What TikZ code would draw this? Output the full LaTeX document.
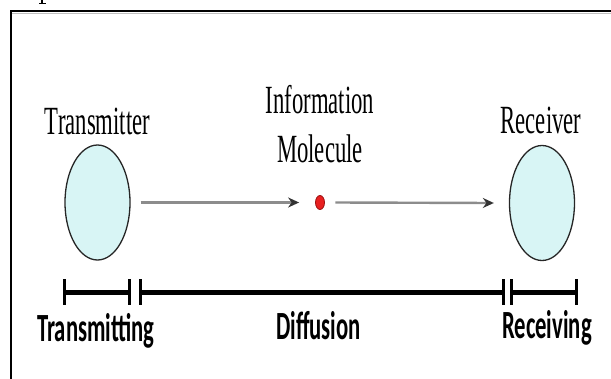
\documentclass[tikz,border=0pt]{standalone}
\usepackage{fontspec}
\setmainfont{Liberation Serif}
\newfontfamily\calib{Carlito}
\usetikzlibrary{shapes.geometric,arrows.meta}
\definecolor{cellfill}{HTML}{D8F5F5}
\definecolor{dotred}{HTML}{E82020}
\definecolor{dotedge}{HTML}{9A1010}
\definecolor{arrgray}{HTML}{8C8C8C}
\tikzset{
  cell/.style={ellipse, draw=black!85, line width=1.3pt, fill=cellfill, minimum width=65pt, minimum height=115pt, inner sep=0pt},
  toplabel/.style={font=\fontsize{40}{48}\selectfont, xscale=0.567, anchor=base, inner sep=0pt},
  botlabel/.style={font=\calib\bfseries\fontsize{40}{48}\selectfont, xscale=0.567, anchor=base, inner sep=0pt},
  flow/.style={draw=arrgray, line width=2.4pt, -{Stealth[length=11pt,width=10pt,color=black!80]}},
  barline/.style={line width=5pt},
  tick/.style={line width=3pt},
}
\begin{document}
\begin{tikzpicture}[x=1pt,y=-1pt]
\useasboundingbox (0,0) rectangle (611,378);
% frame
\draw[line width=1.5pt, black!25] (12,13.5) -- (640,13.5);
\draw[line width=2.2pt] (11,400) -- (11,11) -- (640,11);
% fragment of a glyph cut by the top edge
\draw[line width=1.2pt] (42,-2) -- (42,3.5);
\draw[line width=0.9pt] (39,3.8) -- (45.5,3.8);
% cells
\node[cell] (tx) at (97.5,202.5) {};
\node[cell] (rx) at (542,203) {};
\node[ellipse, fill=dotred, draw=dotedge, line width=0.8pt, minimum width=9pt, minimum height=14pt, inner sep=0pt] (dot) at (320,202.5) {};
% labels
\node[toplabel] (txl) at (97.5,134) {Transmitter};
\node[toplabel] (rxl) at (541,133) {Receiver};
\node[toplabel] (info) at (320,113) {Information};
\node[toplabel] (mol) at (320,162) {Molecule};
% arrows
\draw[flow] ([xshift=10pt]tx.east) -- ([xshift=-16pt]dot.west);
\draw[flow] ([xshift=10.5pt]dot.east) -- ([xshift=-15pt]rx.west);
% bar
\coordinate (b1) at (64,292);
\coordinate (b2) at (129,292);
\coordinate (b3) at (140,292);
\coordinate (b4) at (503,292);
\coordinate (b5) at (511,292);
\coordinate (b6) at (576,292);
\draw[barline] (b1) -- (b2);
\draw[barline] (b3) -- (b4);
\draw[barline] (b5) -- (b6);
\foreach \c in {b1,b2,b3,b4,b5,b6}{
  \draw[tick] ([yshift=-12.5pt]\c) -- ([yshift=13.5pt]\c);
}
\node[botlabel] (lt) at (96,341) {Transmitting};
\node[botlabel] (ld) at (318.5,339) {Diffusion};
\node[botlabel] (lr) at (547,338) {Receiving};
\end{tikzpicture}
\end{document}
